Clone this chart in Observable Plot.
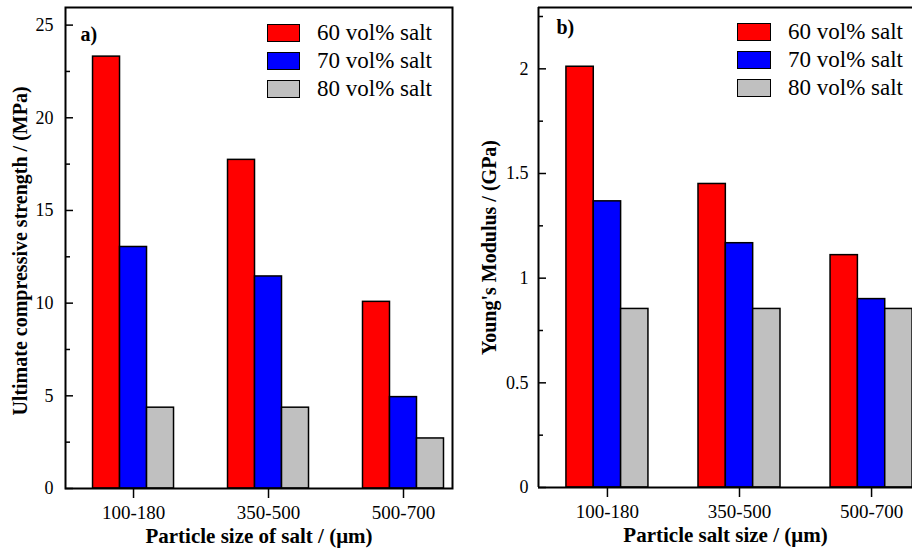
<!DOCTYPE html>
<html>
<head>
<meta charset="utf-8">
<script src="https://cdn.jsdelivr.net/npm/d3@7"></script>
<script src="https://cdn.jsdelivr.net/npm/@observablehq/plot@0.6"></script>
<style>
  html, body { margin: 0; padding: 0; background: #fff; }
  #wrap { position: relative; width: 912px; height: 551px; overflow: hidden; background: #fff; }
  .panel { position: absolute; top: 0; }
  .legend { position: absolute; font-family: "Liberation Serif", serif; font-size: 23px; color: #000; }
  .legend .row { position: absolute; left: 0; display: flex; align-items: center; height: 18px; white-space: nowrap; }
  .legend .box { box-sizing: border-box; height: 18px; border: 1.5px solid #000; }
</style>
</head>
<body>
<div id="wrap"></div>
<script>
// ---- data ----
const categories = ["100-180", "350-500", "500-700"];
const series = ["60 vol% salt", "70 vol% salt", "80 vol% salt"];
const seriesColors = ["#ff0000", "#0000ff", "#c0c0c0"];

// a) Ultimate compressive strength (MPa)
const strength60 = [23.3, 17.73, 10.07];
const strength70 = [13.03, 11.44, 4.93];
const strength80 = [4.36, 4.36, 2.70];

// b) Young's modulus (GPa)
const modulus60 = [2.01, 1.45, 1.11];
const modulus70 = [1.367, 1.167, 0.90];
const modulus80 = [0.853, 0.853, 0.853];

const strengthTicks = [0, 5, 10, 15, 20, 25];
const strengthMinor = [2.5, 7.5, 12.5, 17.5, 22.5];
const modulusTicks = [0, 0.5, 1, 1.5, 2];
const modulusMinor = [0.25, 0.75, 1.25, 1.75, 2.25];

function rowsFrom(seriesValues) {
  const rows = [];
  categories.forEach((c, i) => {
    seriesValues.forEach((vals, j) => rows.push({cat: c, pos: i + 1, s: j, value: vals[i]}));
  });
  return rows;
}

const FONT = "Liberation Serif";

function panel(o) {
  const rows = rowsFrom(o.values);
  const w = o.barWidth;
  const marks = [
    Plot.rectY(rows, {
      x1: d => d.pos + (d.s - 1.5) * w,
      x2: d => d.pos + (d.s - 0.5) * w,
      y1: 0,
      y2: "value",
      fill: d => seriesColors[d.s],
      stroke: "black",
      strokeWidth: 1.5,
      clip: true
    }),
    Plot.axisX({ticks: [1, 2, 3], tickFormat: d => categories[d - 1], tickSize: 10, tickPadding: 7,
      fontSize: 19, label: null, strokeWidth: 1.5}),
    Plot.axisY({ticks: o.yTicks, tickSize: 0, tickPadding: o.yPad, tickFormat: o.yFmt, fontSize: 18, label: null}),
    Plot.axisY({ticks: o.yTicks, tickSize: -8, tickFormat: () => "", label: null, strokeWidth: 1.5}),
    Plot.axisY({ticks: o.yMinor, tickSize: -5, tickFormat: () => "", label: null, strokeWidth: 1.5}),
    Plot.text([o.tag], {frameAnchor: "top-left", textAnchor: "start", lineAnchor: "middle",
      dx: o.tagDx, dy: o.tagDy, fontSize: 20, fontWeight: "bold"}),
    Plot.text([o.yTitle], {frameAnchor: "left", rotate: -90, lineAnchor: "middle", textAnchor: "middle",
      dx: o.yTitleDx, dy: o.yTitleDy, fontSize: 20, fontWeight: "bold"}),
    Plot.text([o.xTitle], {frameAnchor: "bottom", lineAnchor: "middle", textAnchor: "middle",
      dy: 48, fontSize: 21, fontWeight: "bold"})
  ];
  if (o.fullFrame) {
    marks.push(Plot.frame({stroke: "black", strokeWidth: 2}));
  } else {
    marks.push(Plot.ruleX([o.xDomain[0]], {stroke: "black", strokeWidth: 2}));
    marks.push(Plot.ruleY([0, o.yDomain[1]], {stroke: "black", strokeWidth: 2}));
  }
  return Plot.plot({
    width: o.width,
    height: 551,
    marginLeft: o.marginLeft,
    marginRight: o.marginRight,
    marginTop: 7,
    marginBottom: o.marginBottom,
    x: {type: "linear", domain: o.xDomain},
    y: {domain: o.yDomain},
    color: {type: "identity"},
    style: {fontFamily: FONT, fontSize: "18px", color: "black", background: "white", overflow: "visible"},
    marks
  });
}

function legend(left, top, boxW, gap) {
  const div = document.createElement("div");
  div.className = "legend";
  div.style.left = left + "px";
  div.style.top = top + "px";
  series.forEach((name, j) => {
    const row = document.createElement("div");
    row.className = "row";
    row.style.top = (j * 28) + "px";
    const box = document.createElement("span");
    box.className = "box";
    box.style.width = boxW + "px";
    box.style.background = seriesColors[j];
    const txt = document.createElement("span");
    txt.style.marginLeft = gap + "px";
    txt.textContent = name;
    row.appendChild(box);
    row.appendChild(txt);
    div.appendChild(row);
  });
  return div;
}

const wrap = document.getElementById("wrap");

const left = panel({
  values: [strength60, strength70, strength80],
  width: 456, marginLeft: 65, marginRight: 4, marginBottom: 63,
  xDomain: [0.496, 3.363], yDomain: [0, 25.95], barWidth: 0.2,
  yTicks: strengthTicks, yMinor: strengthMinor, yFmt: d => String(d), yPad: 12,
  tag: "a)", tagDx: 15, tagDy: 27,
  yTitle: "Ultimate compressive strength / (MPa)", yTitleDx: -45, yTitleDy: 3,
  xTitle: "Particle size of salt / (\u03bcm)",
  fullFrame: true
});
const lw = document.createElement("div");
lw.className = "panel"; lw.style.left = "0px";
lw.appendChild(left);
wrap.appendChild(lw);

const right = panel({
  values: [modulus60, modulus70, modulus80],
  width: 456, marginLeft: 82, marginRight: 0, marginBottom: 64,
  xDomain: [0.478, 3.31], yDomain: [0, 2.293], barWidth: 0.207,
  yTicks: modulusTicks, yMinor: modulusMinor, yFmt: d => String(d), yPad: 10,
  tag: "b)", tagDx: 18, tagDy: 20,
  yTitle: "Young's Modulus / (GPa)", yTitleDx: -49, yTitleDy: 0,
  xTitle: "Particle salt size / (\u03bcm)",
  fullFrame: false
});
const rw = document.createElement("div");
rw.className = "panel"; rw.style.left = "456px";
rw.appendChild(right);
wrap.appendChild(rw);

wrap.appendChild(legend(267, 24, 33, 17));
wrap.appendChild(legend(737, 23, 34, 17));
</script>
</body>
</html>
